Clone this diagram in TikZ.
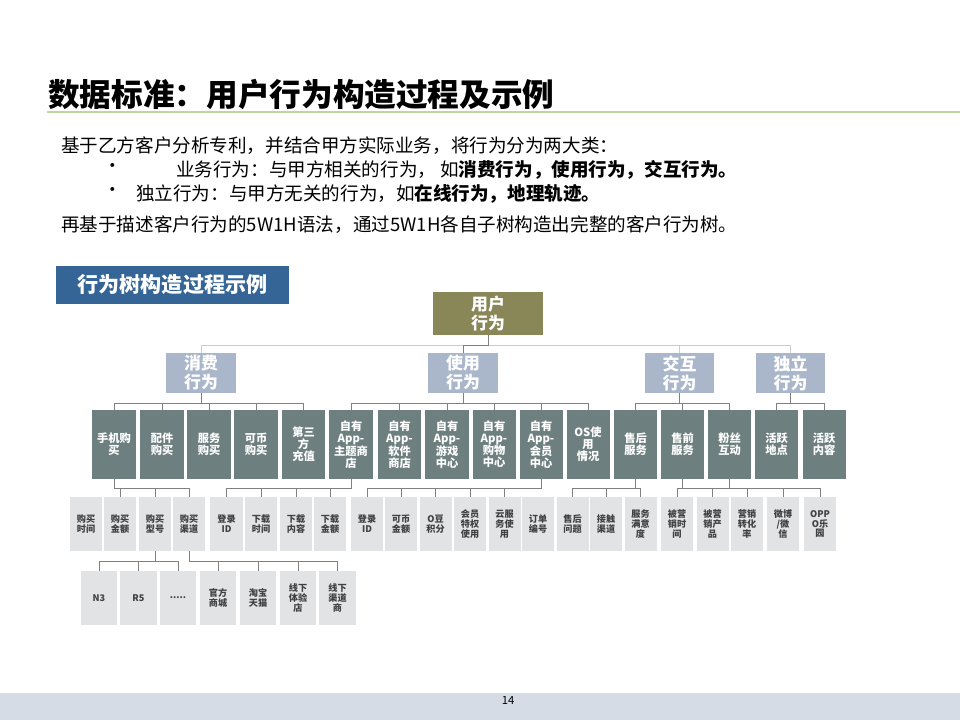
\documentclass[tikz,border=0pt]{standalone}
\usepackage{fontspec}
\setmainfont{Noto Sans CJK SC}
\definecolor{rootolive}{RGB}{137,135,87}
\definecolor{lvlone}{RGB}{170,183,203}
\definecolor{lvltwo}{RGB}{110,127,127}
\definecolor{lvlthree}{RGB}{226,227,229}
\definecolor{bannerblue}{RGB}{52,101,150}
\definecolor{titleline}{RGB}{190,214,160}
\definecolor{footband}{RGB}{214,220,229}
\tikzset{
  rootbox/.style={fill=rootolive, text=white, font=\fontsize{12}{14}\selectfont\bfseries, minimum width=2.75cm, minimum height=1.075cm, inner sep=0pt, align=center},
  catbox/.style={fill=lvlone, text=white, font=\fontsize{12}{13.5}\selectfont\bfseries, minimum width=1.725cm, minimum height=1cm, inner sep=0pt, align=center},
  actbox/.style={fill=lvltwo, text=white, font=\fontsize{8}{8.5}\selectfont\bfseries, minimum width=1.075cm, minimum height=1.7cm, inner sep=0pt, align=center},
  attrbox/.style={fill=lvlthree, text=black!75, font=\fontsize{6.5}{7}\selectfont\bfseries, minimum width=0.8cm, minimum height=1.325cm, inner sep=0pt, align=center},
  valbox/.style={attrbox, minimum width=0.9cm},
  link/.style={draw=black!50, line width=0.6pt},
  faintlink/.style={draw=black!20, line width=0.6pt},
  bodytext/.style={anchor=west, inner sep=0pt, font=\fontsize{13.2}{15}\selectfont},
}
\begin{document}
\begin{tikzpicture}[x=0.025cm,y=-0.025cm]
   \fill[white] (0,0) rectangle (960,720);
   \useasboundingbox (0,0) rectangle (960,720);

   \node[anchor=west, inner sep=0pt, font=\fontsize{22.5}{26}\selectfont\bfseries] (title) at (48,95) {数据标准：用户行为构造过程及示例};
   \draw[titleline, line width=0.8pt] (47,112) -- (960,112);

   \node[bodytext] (intro)   at ( 61,146) {基于乙方客户分析专利，并结合甲方实际业务，将行为分为两大类：};
   \node[bodytext, anchor=center] (dotone) at (113,168) {•};
   \node[bodytext, anchor=center] (dottwo) at (113,192) {•};
   \node[bodytext] (typeone) at (176,170) {业务行为：与甲方相关的行为， 如\textbf{消费行为，使用行为，交互行为。}};
   \node[bodytext] (typetwo) at (136,194) {独立行为：与甲方无关的行为，如\textbf{在线行为，地理轨迹。}};
   \node[bodytext] (method)  at ( 61,225) {再基于描述客户行为的5W1H语法，通过5W1H各自子树构造出完整的客户行为树。};

   \node[fill=bannerblue, text=white, font=\fontsize{15}{17}\selectfont\bfseries, minimum width=5.825cm, minimum height=0.95cm, inner sep=0pt] (banner) at (172.5,285) {行为树构造过程示例};

   \node[rootbox] (root) at (488,313.5) {用户\\行为};

   \node[catbox] (xiaofei) at (201,  373) {消费\\行为};
   \node[catbox] (shiyong) at (463,  373) {使用\\行为};
   \node[catbox] (jiaohu)  at (679.5,373) {交互\\行为};
   \node[catbox] (duli)    at (790.5,373) {独立\\行为};

   \node[actbox] (shouji)    at (114,  444.5) {手机购\\买};
   \node[actbox] (peijian)   at (162,  444.5) {配件\\购买};
   \node[actbox] (fuwu)      at (209,  444.5) {服务\\购买};
   \node[actbox] (kebi)      at (256,  444.5) {可币\\购买};
   \node[actbox] (disanfang) at (303.5,444.5) {第三\\方\\充值};
   \node[actbox] (zhuti)     at (351,  444.5) {自有\\App-\\主题商\\店};
   \node[actbox] (ruanjian)  at (399.5,444.5) {自有\\App-\\软件\\商店};
   \node[actbox] (youxi)     at (447,  444.5) {自有\\App-\\游戏\\中心};
   \node[actbox] (gouwu)     at (494,  444.5) {自有\\App-\\购物\\中心};
   \node[actbox] (huiyuan)   at (541,  444.5) {自有\\App-\\会员\\中心};
   \node[actbox] (osuse)     at (588,  444.5) {OS使\\用\\情况};
   \node[actbox] (shouhou)   at (635.5,444.5) {售后\\服务};
   \node[actbox] (shouqian)  at (682.5,444.5) {售前\\服务};
   \node[actbox] (fensi)     at (729.5,444.5) {粉丝\\互动};
   \node[actbox] (huoyuedd)  at (776.5,444.5) {活跃\\地点};
   \node[actbox] (huoyuenr)  at (824,  444.5) {活跃\\内容};

   \node[attrbox] (gmsj)   at ( 86,  524) {购买\\时间};
   \node[attrbox] (gmje)   at (120,  524) {购买\\金额};
   \node[attrbox] (gmxh)   at (155,  524) {购买\\型号};
   \node[attrbox] (gmqd)   at (189,  524) {购买\\渠道};
   \node[attrbox] (dlid)   at (226.5,524) {登录\\ID};
   \node[attrbox] (xzsj)   at (261,  524) {下载\\时间};
   \node[attrbox] (xznr)   at (296,  524) {下载\\内容};
   \node[attrbox] (xzje)   at (330,  524) {下载\\金额};
   \node[attrbox] (dlidb)  at (367,  524) {登录\\ID};
   \node[attrbox] (kbje)   at (401,  524) {可币\\金额};
   \node[attrbox] (odjf)   at (435.5,524) {O豆\\积分};
   \node[attrbox] (hytq)   at (470,  524) {会员\\特权\\使用};
   \node[attrbox] (yfw)    at (504.5,524) {云服\\务使\\用};
   \node[attrbox] (ddbh)   at (538,  524) {订单\\编号};
   \node[attrbox] (shwt)   at (572.5,524) {售后\\问题};
   \node[attrbox] (jcqd)   at (606,  524) {接触\\渠道};
   \node[attrbox] (fwmyd)  at (640.5,524) {服务\\满意\\度};
   \node[attrbox] (yxsj)   at (677,  524) {被营\\销时\\间};
   \node[attrbox] (yxcp)   at (712.5,524) {被营\\销产\\品};
   \node[attrbox] (yxzh)   at (747,  524) {营销\\转化\\率};
   \node[attrbox] (wbwx)   at (783,  524) {微博\\/微\\信};
   \node[attrbox] (oppoly) at (820,  524) {OPP\\O乐\\园};

   \node[valbox] (nthree) at ( 99,  598) {N3};
   \node[valbox] (rfive)  at (138.5,598) {R5};
   \node[valbox] (dots)   at (178,  598) {.....};
   \node[valbox] (gfsc)   at (218,  598) {官方\\商城};
   \node[valbox] (tbtm)   at (258,  598) {淘宝\\天猫};
   \node[valbox] (xxtyd)  at (298,  598) {线下\\体验\\店};
   \node[valbox] (xxqds)  at (337.5,598) {线下\\渠道\\商};

   \draw[faintlink] (root.south) -- ++(0,10) -| (xiaofei.north)
                    (root.south) -- ++(0,10) -| (jiaohu.north)
                    (root.south) -- ++(0,10) -| (duli.north);
   \draw[link] (root.south) -- ++(0,10) -| (shiyong.north);

   \draw[link] (xiaofei.south) -- ++(0,10) -| (shouji.north)
               (xiaofei.south) -- ++(0,10) -| (peijian.north)
               (xiaofei.south) -- ++(0,10) -| (fuwu.north)
               (xiaofei.south) -- ++(0,10) -| (kebi.north)
               (xiaofei.south) -- ++(0,10) -| (disanfang.north);
   \draw[link] (shiyong.south) -- ++(0,10) -| (zhuti.north)
               (shiyong.south) -- ++(0,10) -| (ruanjian.north)
               (shiyong.south) -- ++(0,10) -| (youxi.north)
               (shiyong.south) -- ++(0,10) -| (gouwu.north)
               (shiyong.south) -- ++(0,10) -| (huiyuan.north)
               (shiyong.south) -- ++(0,10) -| (osuse.north);
   \draw[link] (jiaohu.south) -- ++(0,10) -| (shouhou.north)
               (jiaohu.south) -- ++(0,10) -| (shouqian.north)
               (jiaohu.south) -- ++(0,10) -| (fensi.north);
   \draw[link] (duli.south) -- ++(0,10) -| (huoyuedd.north)
               (duli.south) -- ++(0,10) -| (huoyuenr.north);

   \draw[link] (shouji.south) -- ++(0,10) -| (gmje.north)
               (shouji.south) -- ++(0,10) -| (gmxh.north)
               (shouji.south) -- ++(0,10) -| (gmqd.north);
   \draw[link] (zhuti.south) -- ++(0,10) -| (dlid.north)
               (zhuti.south) -- ++(0,10) -| (xzsj.north)
               (zhuti.south) -- ++(0,10) -| (xznr.north)
               (zhuti.south) -- ++(0,10) -| (xzje.north);
   \draw[link] (huiyuan.south) -- ++(0,10) -| (dlidb.north)
               (huiyuan.south) -- ++(0,10) -| (kbje.north)
               (huiyuan.south) -- ++(0,10) -| (odjf.north)
               (huiyuan.south) -- ++(0,10) -| (hytq.north)
               (huiyuan.south) -- ++(0,10) -| (yfw.north);
   \draw[link] (shouhou.south) -- ++(0,10) -| (shwt.north)
               (shouhou.south) -- ++(0,10) -| (jcqd.north)
               (shouhou.south) -- ++(0,10) -| (fwmyd.north);
   \draw[link] (shouqian.south) -- ++(0,10) -| (yxsj.north)
               (shouqian.south) -- ++(0,10) -| (yxcp.north)
               (shouqian.south) -- ++(0,10) -| (yxzh.north);
   \draw[link] (fensi.south) -- ++(0,10) -| (wbwx.north)
               (fensi.south) -- ++(0,10) -| (oppoly.north);

   \draw[link] (gmxh.south) -- ++(0,11) -| (nthree.north)
               (gmxh.south) -- ++(0,11) -| (rfive.north)
               (gmxh.south) -- ++(0,11) -| (dots.north);
   \draw[link] (gmqd.south) -- ++(0,11) -| (gfsc.north)
               (gmqd.south) -- ++(0,11) -| (tbtm.north)
               (gmqd.south) -- ++(0,11) -| (xxtyd.north)
               (gmqd.south) -- ++(0,11) -| (xxqds.north);

   \fill[footband] (0,693) rectangle (960,720);
   \node[font=\fontsize{8}{9}\selectfont, inner sep=0pt] (pagenum) at (508,700) {14};
\end{tikzpicture}
\end{document}
